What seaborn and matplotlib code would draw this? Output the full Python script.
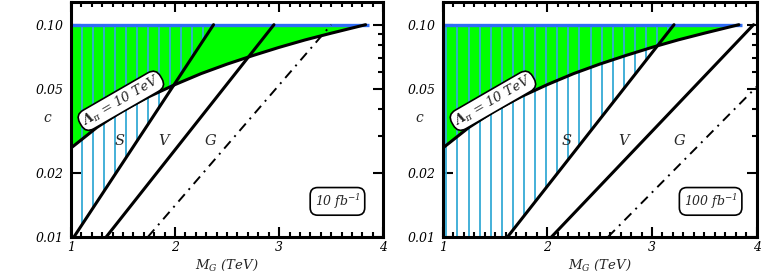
import numpy as np
import seaborn as sns
import matplotlib.pyplot as plt
from matplotlib.ticker import FixedLocator, NullFormatter

# Lambda_pi = 10 TeV contour, same in both panels
mg_lambda = [1.0, 1.25, 1.5, 1.75, 2.0, 2.25, 2.5, 2.75, 3.0, 3.25, 3.5, 3.83]
c_lambda = [0.0262, 0.0328, 0.0394, 0.0458, 0.0522, 0.0588, 0.0652, 0.0716, 0.0782, 0.0848, 0.0912, 0.100]

# c = 0.1 upper edge (blue)
blue_mg = [1.0, 3.86]
blue_c = [0.1, 0.1]

# reach lines per luminosity: endpoints (M_G, c)
lumi_labels = ['10 fb$^{-1}$', '100 fb$^{-1}$']
s_mg = [[1.03, 2.37], [1.62, 3.21]]
s_c = [[0.01, 0.1], [0.01, 0.1]]
v_mg = [[1.34, 2.95], [2.04, 3.97]]
v_c = [[0.01, 0.1], [0.01, 0.1]]
g_mg = [[1.74, 3.50], [2.58, 4.00]]
g_c = [[0.01, 0.1], [0.01, 0.051]]

x_ticks = [1, 2, 3, 4]
x_ticklabels = ['1', '2', '3', '4']
y_ticks = [0.01, 0.02, 0.05, 0.1]
y_ticklabels = ['0.01', '0.02', '0.05', '0.10']
y_minor = [0.03, 0.04, 0.06, 0.07, 0.08, 0.09]

sns.set_style('ticks')
plt.rcParams['font.family'] = ['DejaVu Serif']
plt.rcParams['font.style'] = 'italic'
plt.rcParams['mathtext.fontset'] = 'dejavuserif'

fig = plt.figure(figsize=(7.62, 2.79), dpi=100)
axes = [fig.add_axes([0.093, 0.151, 0.410, 0.842]),
        fig.add_axes([0.581, 0.151, 0.412, 0.842])]

hatch_start = [1.0, 1.035]
lab_x = [(1.47, 1.89, 2.34), (2.18, 2.73, 3.26)]

for i, ax in enumerate(axes):
    ax.set_yscale('log')

    # green allowed band between the contour and c = 0.1
    ax.fill_between(mg_lambda, c_lambda, 0.1, color='#00ff00', lw=0, zorder=1)

    # vertical hatching above the S line
    xh = np.arange(hatch_start[i], s_mg[i][1], 0.106)
    yl = 10 ** np.interp(xh, s_mg[i], np.log10(s_c[i]))
    ax.vlines(xh, yl, 0.1, color='#35aad6', lw=1.3, zorder=1.5)

    ax.plot(blue_mg, blue_c, color='#2f6df5', lw=2.4, zorder=2, solid_capstyle='butt')

    sns.lineplot(x=mg_lambda, y=c_lambda, ax=ax, color='k', lw=2.2, zorder=3)
    sns.lineplot(x=s_mg[i], y=s_c[i], ax=ax, color='k', lw=2.2, zorder=3)
    sns.lineplot(x=v_mg[i], y=v_c[i], ax=ax, color='k', lw=2.2, zorder=3)
    sns.lineplot(x=g_mg[i], y=g_c[i], ax=ax, color='k', lw=1.4, zorder=3,
                 dashes=(5, 3, 1, 3))

    ax.set_xlim(1, 4)
    ax.set_ylim(0.01, 0.128)

    ax.xaxis.set_major_locator(FixedLocator(x_ticks))
    ax.set_xticklabels(x_ticklabels)
    ax.xaxis.set_minor_locator(FixedLocator(np.arange(1, 4.001, 0.1)))
    ax.yaxis.set_major_locator(FixedLocator(y_ticks))
    ax.set_yticklabels(y_ticklabels)
    ax.yaxis.set_minor_locator(FixedLocator(y_minor))
    ax.yaxis.set_minor_formatter(NullFormatter())

    ax.tick_params(which='both', direction='in', top=True, right=True,
                   width=1.5, colors='k', labelsize=9)
    ax.tick_params(which='major', length=7)
    ax.tick_params(which='minor', length=3.5)
    ax.tick_params(axis='x', pad=3)
    ax.tick_params(axis='y', pad=5)
    for sp in ax.spines.values():
        sp.set_linewidth(2.2)
        sp.set_color('k')

    ax.set_xlabel('$M_G$ (TeV)', fontsize=9.5)
    ax.xaxis.set_label_coords(0.5, -0.12)
    ax.xaxis.label.set_va('center')
    ax.set_ylabel('c', fontsize=10, rotation=0)
    ax.yaxis.set_label_coords(-0.075, 0.506)
    ax.yaxis.label.set_va('center')

    ax.text(1.48, 0.0438, r'$\mathbf{\Lambda}_{\pi}$ = 10 TeV', fontsize=9.5,
            rotation=30, ha='center', va='center', zorder=5,
            bbox=dict(boxstyle='round,pad=0.2,rounding_size=0.7',
                      fc='white', ec='k', lw=1.2))
    for name, xl in zip(['S', 'V', 'G'], lab_x[i]):
        ax.text(xl, 0.0284, name, fontsize=10.5, ha='center', va='center', zorder=5)
    ax.text(3.56, 0.0147, lumi_labels[i], fontsize=9, ha='center', va='center', zorder=5,
            bbox=dict(boxstyle='round,pad=0.35,rounding_size=0.6',
                      fc='white', ec='k', lw=1.2))

fig.savefig('out.png', dpi=100, facecolor='white')
